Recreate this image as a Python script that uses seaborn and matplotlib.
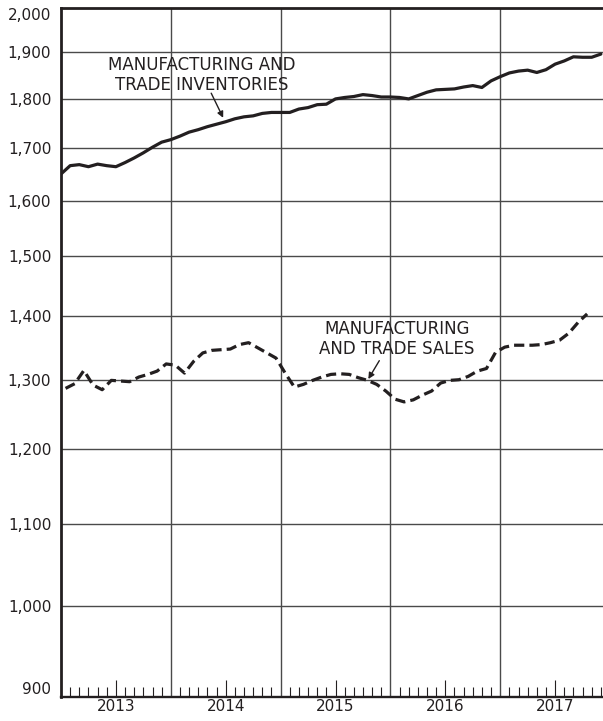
import numpy as np
import pandas as pd
import seaborn as sns
import matplotlib.pyplot as plt
from matplotlib.ticker import NullLocator

# month-end manufacturing and trade inventories, Dec 2012 .. Nov 2017
inventories = [1650, 1666, 1668, 1664, 1669, 1666, 1664, 1672, 1681, 1691,
               1702, 1712, 1717, 1724, 1732, 1737, 1743, 1748, 1753, 1759,
               1763, 1765, 1770, 1772, 1772, 1772, 1779, 1782, 1788, 1789,
               1800, 1803, 1805, 1809, 1807, 1804, 1804, 1803, 1800, 1807,
               1814, 1819, 1820, 1821, 1825, 1828, 1824, 1838, 1847, 1855,
               1859, 1861, 1856, 1862, 1874, 1881, 1890, 1889, 1889, 1896]
# monthly manufacturing and trade sales, Jan 2013 .. Oct 2017
sales = [1287, 1294, 1314, 1292, 1285, 1299, 1298, 1297, 1304, 1308,
         1313, 1324, 1322, 1310, 1328, 1341, 1345, 1346, 1347, 1354,
         1357, 1349, 1341, 1333, 1310, 1289, 1293, 1299, 1304, 1308,
         1309, 1308, 1303, 1299, 1293, 1283, 1271, 1267, 1270, 1277,
         1283, 1295, 1299, 1300, 1305, 1313, 1317, 1342, 1350, 1353,
         1353, 1353, 1354, 1357, 1361, 1372, 1389, 1403]
years = [2013, 2014, 2015, 2016, 2017]
y_ticks = [900, 1000, 1100, 1200, 1300, 1400, 1500, 1600, 1700, 1800, 1900, 2000]

ink = "#231f20"
grid = "#4a4a4a"

inv_df = pd.DataFrame({"year": years[0] + np.arange(len(inventories)) / 12,
                       "value": inventories})
sales_df = pd.DataFrame({"year": years[0] + (np.arange(len(sales)) + 0.5) / 12,
                         "value": sales})

sns.set_style("white")
plt.rcParams["font.family"] = ["DejaVu Sans"]

fig = plt.figure(figsize=(6.03, 7.21), dpi=100)
ax = fig.add_axes([61 / 603, 24 / 721, 542 / 603, 689 / 721])

sns.lineplot(data=inv_df, x="year", y="value", ax=ax, color=ink, linewidth=2.3)
sns.lineplot(data=sales_df, x="year", y="value", ax=ax, color=ink, linewidth=2.3,
             linestyle=(0, (3.2, 1.6)))

ax.set_yscale("log")
ax.set_ylim(900, 2000)
ax.set_xlim(2013, 2013 + 542 / 109.8)
ax.set_yticks(y_ticks)
ax.set_yticklabels([f"{v:,}" for v in y_ticks])
ax.yaxis.set_minor_locator(NullLocator())
ax.tick_params(axis="y", length=0, pad=7, labelsize=11, labelcolor=ink)
labels = ax.get_yticklabels()
labels[0].set_va("bottom")
labels[-1].set_va("top")

# months: short ticks, mid-year long tick carries the year label
month_ticks = [years[0] + i / 12 for i in range(12 * len(years)) if i % 12 not in (0, 6)]
ax.set_xticks(month_ticks)
ax.set_xticklabels([])
ax.set_xticks([y + 0.5 for y in years], minor=True)
ax.set_xticklabels([str(y) for y in years], minor=True)
ax.tick_params(axis="x", which="major", bottom=True, direction="in", length=7.2,
               width=0.8, color=ink)
ax.tick_params(axis="x", which="minor", bottom=True, direction="in", length=12.5,
               width=0.8, color=ink, pad=1.5, labelsize=11, labelcolor=ink)

for v in y_ticks[1:-1]:
    ax.axhline(v, color=grid, lw=1.0, zorder=0)
for y in years[1:]:
    ax.axvline(y, color=grid, lw=1.0, zorder=0)

ax.set_xlabel("")
ax.set_ylabel("")
for side in ["left", "top"]:
    ax.spines[side].set_linewidth(2.0)
    ax.spines[side].set_color(ink)
ax.spines["bottom"].set_linewidth(1.7)
ax.spines["bottom"].set_color(ink)
ax.spines["right"].set_visible(False)

arrow = dict(arrowstyle="-|>", color=ink, lw=1.0, mutation_scale=9,
             shrinkA=0, shrinkB=0)
ax.text(2014.28, 1851, "MANUFACTURING AND\nTRADE INVENTORIES", ha="center",
        va="center", fontsize=12, color=ink, linespacing=1.1)
ax.annotate("", xy=(2014.477, 1761), xytext=(2014.368, 1812), arrowprops=arrow)
ax.text(2016.061, 1363, "MANUFACTURING\nAND TRADE SALES", ha="center",
        va="center", fontsize=12, color=ink, linespacing=1.1)
ax.annotate("", xy=(2015.799, 1301), xytext=(2015.899, 1329), arrowprops=arrow)

fig.savefig("out.png", dpi=100)
